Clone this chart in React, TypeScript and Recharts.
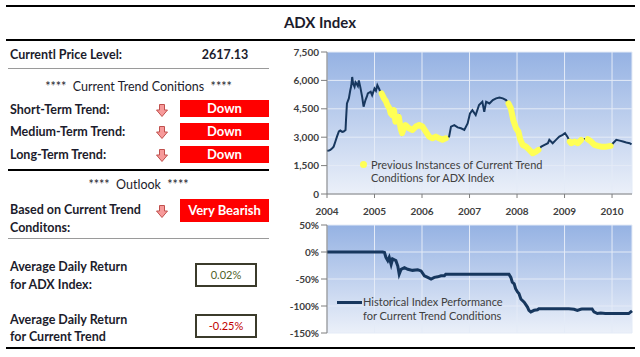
import React from 'react'
import { ComposedChart, Line, XAxis, YAxis, CartesianGrid, Legend } from 'recharts'

const FONT = "Lato, 'Open Sans', sans-serif"

// x-axis years
const yearTicks = [2004, 2005, 2006, 2007, 2008, 2009, 2010]
const lastYear = 2010.42

// ADX index level
const priceDates = [
  2004.0, 2004.04, 2004.07, 2004.11, 2004.14, 2004.18, 2004.21, 2004.25, 2004.28, 2004.32,
  2004.35, 2004.39, 2004.4, 2004.42, 2004.46, 2004.49, 2004.51, 2004.53, 2004.55, 2004.58,
  2004.6, 2004.62, 2004.65, 2004.67, 2004.7, 2004.74, 2004.77, 2004.81, 2004.84, 2004.86,
  2004.92, 2004.95, 2005.0, 2005.03, 2005.06, 2005.11, 2005.15, 2005.2, 2005.24, 2005.27,
  2005.31, 2005.34, 2005.38, 2005.41, 2005.44, 2005.48, 2005.51, 2005.55, 2005.58, 2005.62,
  2005.65, 2005.69, 2005.73, 2005.8, 2005.87, 2005.94, 2006.01, 2006.08, 2006.15, 2006.22,
  2006.29, 2006.36, 2006.43, 2006.5, 2006.57, 2006.61, 2006.68, 2006.75, 2006.82, 2006.89,
  2006.96, 2007.01, 2007.06, 2007.13, 2007.2, 2007.27, 2007.31, 2007.35, 2007.42, 2007.49,
  2007.56, 2007.63, 2007.7, 2007.77, 2007.82, 2007.87, 2007.92, 2007.98, 2008.03, 2008.07,
  2008.12, 2008.19, 2008.26, 2008.33, 2008.4, 2008.45, 2008.51, 2008.58, 2008.65, 2008.68,
  2008.75, 2008.82, 2008.89, 2008.96, 2009.01, 2009.06, 2009.11, 2009.14, 2009.21, 2009.28,
  2009.35, 2009.42, 2009.49, 2009.56, 2009.63, 2009.7, 2009.77, 2009.88, 2009.97, 2010.02,
  2010.09, 2010.16, 2010.23, 2010.3, 2010.37, 2010.41,
]
const priceLevels = [
  2280, 2300, 2330, 2420, 2500, 2800, 3030, 3300, 3350, 3280,
  3300, 3380, 3900, 4780, 5050, 5480, 5700, 6180, 5830, 5660,
  5900, 5830, 5700, 6000, 5660, 5130, 4610, 4960, 5150, 5310,
  5400, 5220, 5570, 5450, 5750, 5480, 5310, 5050, 4900, 4700,
  4550, 4260, 4150, 4430, 3820, 3900, 4080, 3470, 3210, 3500,
  3640, 3550, 3470, 3380, 3560, 3640, 3560, 3290, 3030, 2940,
  3030, 2940, 2860, 2940, 3030, 3560, 3640, 3520, 3470, 3380,
  3730, 4260, 4430, 4170, 4700, 4870, 4340, 4870, 4780, 4960,
  5050, 5100, 5050, 4960, 4780, 4520, 3910, 3470, 3290, 2860,
  2590, 2500, 2330, 2150, 2240, 2330, 2500, 2590, 2680, 2860,
  2680, 2860, 3030, 3120, 3210, 3030, 2770, 2680, 2770, 2680,
  2860, 2910, 2890, 2770, 2590, 2540, 2500, 2500, 2540, 2680,
  2860, 2820, 2770, 2720, 2680, 2617,
]

// periods that matched the current trend conditions
const matchStarts = [2005.15, 2007.82, 2009.11, 2009.49]
const matchEnds = [2006.5, 2008.45, 2009.35, 2009.97]

// cumulative performance during matching periods (lower chart, %)
const perfDates = [
  2004.0, 2005.17, 2005.21, 2005.24, 2005.28, 2005.31, 2005.35, 2005.38, 2005.45, 2005.49,
  2005.52, 2005.56, 2005.63, 2005.7, 2005.8, 2005.91, 2005.98, 2006.05, 2006.12, 2006.19,
  2006.26, 2006.33, 2006.4, 2006.47, 2006.5, 2007.83, 2007.87, 2007.9, 2007.94, 2007.97,
  2008.01, 2008.04, 2008.08, 2008.15, 2008.22, 2008.25, 2008.29, 2008.36, 2008.43, 2008.46,
  2009.09, 2009.2, 2009.27, 2009.34, 2009.37, 2009.58, 2009.62, 2009.69, 2009.76, 2009.86,
  2009.97, 2010.35, 2010.42,
]
const perfValues = [
  0, 0, -1, -10, -16, -10, -23, -13, -16, -26,
  -41, -32, -29, -32, -34, -33, -35, -44, -47, -50,
  -47, -46, -44, -44, -41, -41, -47, -56, -59, -68,
  -74, -77, -87, -93, -102, -108, -111, -108, -107, -105,
  -105, -106, -108, -106, -105.5, -105.5, -111, -114, -113, -114,
  -114, -114, -109,
]

const priceTicks = [0, 1500, 3000, 4500, 6000, 7500]
const perfTicks = [-150, -100, -50, 0, 50]

const inMatch = (y: number) => matchStarts.some((s, i) => y >= s - 1e-9 && y <= matchEnds[i] + 1e-9)

const priceData = priceDates.map((year, i) => ({
  year,
  price: priceLevels[i],
  match: inMatch(year) ? priceLevels[i] : null,
}))
const perfData = perfDates.map((year, i) => ({ year, perf: perfValues[i] }))

const tickStyle = { fontSize: 10, fontWeight: 700, fill: '#404040', fontFamily: FONT }

const TopLegend = (props: any) => {
  const item = (props.payload || [])[0]
  if (!item) return null
  return (
    <div style={{ display: 'flex', alignItems: 'flex-start', fontFamily: FONT, fontSize: 11, color: '#404040', lineHeight: '13px' }}>
      <span style={{ width: 7, height: 7, borderRadius: '50%', background: item.color, marginTop: 3, marginRight: 4, flex: 'none' }} />
      <span style={{ whiteSpace: 'pre-line' }}>{item.value}</span>
    </div>
  )
}

const BottomLegend = (props: any) => {
  const item = (props.payload || [])[0]
  if (!item) return null
  return (
    <div style={{ display: 'flex', alignItems: 'flex-start', fontFamily: FONT, fontSize: 11, color: '#404040', lineHeight: '14px' }}>
      <span style={{ width: 25, height: 3, background: item.color, marginTop: 6, marginRight: 1, flex: 'none' }} />
      <span style={{ whiteSpace: 'pre-line' }}>{item.value}</span>
    </div>
  )
}

const DownArrow = ({ x, y }: { x: number; y: number }) => (
  <svg style={{ position: 'absolute', left: x, top: y }} width={12} height={13} viewBox="0 0 12 13">
    <path d="M3.5 0.5 H8.5 V6 H11.5 L6 12.5 L0.5 6 H3.5 Z" fill="#f79a9a" stroke="#c0504d" strokeWidth={1} />
  </svg>
)

const Label = ({ y, children }: { y: number; children: React.ReactNode }) => (
  <div style={{ position: 'absolute', left: 10, top: y - 8, lineHeight: '16px', fontSize: 12.5, fontWeight: 700, color: '#1c1c2c' }}>
    {children}
  </div>
)

const Badge = ({ y, h, text }: { y: number; h: number; text: string }) => (
  <div style={{ position: 'absolute', left: 180, top: y, width: 89, height: h, lineHeight: `${h}px`, background: '#ff0000', color: '#fff', fontWeight: 700, fontSize: 13, textAlign: 'center' }}>
    {text}
  </div>
)

const ValueBox = ({ y, text, color }: { y: number; text: string; color: string }) => (
  <div style={{ position: 'absolute', left: 195, top: y, width: 62, height: 24, boxSizing: 'border-box', border: '2px solid #3b3b2b', lineHeight: '20px', textAlign: 'center', fontSize: 11, color }}>
    {text}
  </div>
)

const Rule = ({ y, w = 261, h = 1, color }: { y: number; w?: number; h?: number; color: string }) => (
  <div style={{ position: 'absolute', left: w > 300 ? 6 : 8, top: y, width: w, height: h, background: color }} />
)

export default function App() {
  return (
    <div style={{ position: 'absolute', left: 0, top: 0, width: 640, height: 357, background: '#fff', fontFamily: FONT, overflow: 'hidden' }}>
      <Rule y={5} w={629} h={2} color="#000" />
      <div style={{ position: 'absolute', left: 0, top: 12, width: 640, textAlign: 'center', fontSize: 15, fontWeight: 700, color: '#1c1c2c', lineHeight: '20px' }}>
        ADX Index
      </div>
      <Rule y={39} w={629} h={2} color="#000" />

      <Label y={55}>Currentl Price Level:</Label>
      <div style={{ position: 'absolute', left: 195, top: 47, width: 60, textAlign: 'center', lineHeight: '16px', fontSize: 12.5, fontWeight: 700, color: '#1c1c2c' }}>
        2617.13
      </div>
      <Rule y={68} color="#9a9a9a" />

      <div style={{ position: 'absolute', left: 8, top: 79, width: 261, textAlign: 'center', lineHeight: '16px', fontSize: 12.5, color: '#1c1c2c' }}>
        ****&nbsp; Current Trend Conitions&nbsp; ****
      </div>
      <Label y={110}>Short-Term Trend:</Label>
      <DownArrow x={156} y={104} />
      <Badge y={100} h={17} text="Down" />
      <Label y={132}>Medium-Term Trend:</Label>
      <DownArrow x={156} y={126} />
      <Badge y={123} h={17} text="Down" />
      <Label y={155}>Long-Term Trend:</Label>
      <DownArrow x={156} y={149} />
      <Badge y={146} h={17} text="Down" />
      <Rule y={169} h={1.5} color="#000" />

      <div style={{ position: 'absolute', left: 8, top: 177, width: 261, textAlign: 'center', lineHeight: '16px', fontSize: 12.5, color: '#1c1c2c' }}>
        ****&nbsp; Outlook&nbsp; ****
      </div>
      <Label y={210}>Based on Current Trend</Label>
      <Label y={228}>Conditons:</Label>
      <DownArrow x={156} y={205} />
      <Badge y={199} h={23} text="Very Bearish" />
      <Rule y={238} color="#9a9a9a" />

      <Label y={267}>Average Daily Return</Label>
      <Label y={285}>for ADX Index:</Label>
      <ValueBox y={263} text="0.02%" color="#4f6228" />
      <Label y={320}>Average Daily Return</Label>
      <Label y={337}>for Current Trend</Label>
      <ValueBox y={314} text="-0.25%" color="#c00000" />
      <Rule y={347} w={629} h={2} color="#000" />

      <div style={{ position: 'absolute', left: 270, top: 44 }}>
        <ComposedChart width={370} height={180} data={priceData} margin={{ top: 8, right: 8, bottom: 0, left: 0 }}>
          <defs>
            <linearGradient id="bgTop" x1="0" y1="0" x2="0" y2="1">
              <stop offset="0" stopColor="#95b2e3" />
              <stop offset="1" stopColor="#ebf0f9" />
            </linearGradient>
          </defs>
          <CartesianGrid fill="url(#bgTop)" stroke="#e4ebf7" />
          <XAxis
            dataKey="year"
            type="number"
            domain={[2004, lastYear]}
            ticks={yearTicks}
            tick={tickStyle}
            tickSize={4}
            tickMargin={10}
            height={30}
            axisLine={{ stroke: '#7f7f7f' }}
            tickLine={{ stroke: '#7f7f7f' }}
          />
          <YAxis
            domain={[0, 7500]}
            ticks={priceTicks}
            width={57}
            tick={tickStyle}
            tickFormatter={(v: number) => v.toLocaleString('en-US')}
            axisLine={{ stroke: '#7f7f7f' }}
            tickLine={{ stroke: '#7f7f7f' }}
          />
          <Line dataKey="price" stroke="#17375e" strokeWidth={2} dot={false} legendType="none" isAnimationActive={false} />
          <Line
            dataKey="match"
            name={'Previous Instances of Current Trend\nConditions for ADX Index'}
            stroke="#ffff55"
            strokeWidth={6}
            strokeLinecap="round"
            strokeLinejoin="round"
            dot={false}
            isAnimationActive={false}
          />
          <Legend
            layout="horizontal"
            verticalAlign="middle"
            content={<TopLegend />}
            wrapperStyle={{ left: 90, top: 114, width: 220 }}
          />
        </ComposedChart>
      </div>

      <div style={{ position: 'absolute', left: 270, top: 215 }}>
        <ComposedChart width={370} height={130} data={perfData} margin={{ top: 10, right: 8, bottom: 12, left: 0 }}>
          <defs>
            <linearGradient id="bgBottom" x1="0" y1="0" x2="0" y2="1">
              <stop offset="0" stopColor="#95b2e3" />
              <stop offset="1" stopColor="#ebf0f9" />
            </linearGradient>
          </defs>
          <CartesianGrid fill="url(#bgBottom)" stroke="#e4ebf7" />
          <XAxis dataKey="year" type="number" domain={[2004, lastYear]} ticks={yearTicks} hide />
          <YAxis
            domain={[-150, 50]}
            ticks={perfTicks}
            width={57}
            tick={tickStyle}
            tickFormatter={(v: number) => `${v}%`}
            axisLine={{ stroke: '#7f7f7f' }}
            tickLine={{ stroke: '#7f7f7f' }}
          />
          <Line
            dataKey="perf"
            name={'Historical Index Performance\nfor Current  Trend  Conditions'}
            stroke="#17375e"
            strokeWidth={3}
            dot={false}
            isAnimationActive={false}
          />
          <Legend
            layout="horizontal"
            verticalAlign="middle"
            content={<BottomLegend />}
            wrapperStyle={{ left: 67, top: 80, width: 220 }}
          />
        </ComposedChart>
      </div>
    </div>
  )
}
